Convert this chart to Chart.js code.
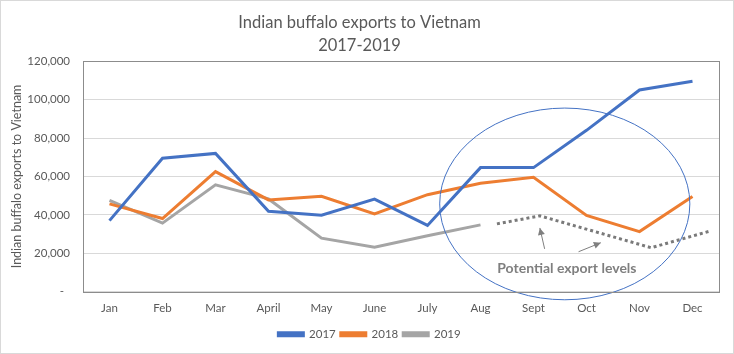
<!DOCTYPE html>
<html>
<head>
<meta charset="utf-8">
<script src="https://cdn.jsdelivr.net/npm/chart.js@4.4.1/dist/chart.umd.min.js"></script>
<style>
html,body{margin:0;padding:0;background:#fff;}
#wrap{width:734px;height:354px;position:relative;}
</style>
</head>
<body>
<div id="wrap"><canvas id="c" width="734" height="354"></canvas></div>
<script>
const months = ['Jan','Feb','Mar','April','May','June','July','Aug','Sept','Oct','Nov','Dec'];
const exports2017 = [37000, 69500, 72000, 41900, 39800, 48200, 34500, 64600, 64600, 84000, 105000, 109600];
const exports2018 = [45700, 38100, 62500, 47800, 49700, 40500, 50500, 56500, 59600, 39700, 31300, 49500];
const exports2019 = [47600, 35700, 55600, 48300, 27900, 23200, 29100, 34800, null, null, null, null];
const potentialX = [7.31, 8.12, 10.22, 11.35];
const potentialY = [35300, 39500, 22900, 31700];
const yTicks = [0, 20000, 40000, 60000, 80000, 100000, 120000];

const FONT = "Lato, 'Open Sans', 'Liberation Sans', sans-serif";
const GREY_TXT = '#595959';

const legendShift = {
  id: 'legendShift',
  afterLayout(chart) {
    if (chart.legend) { chart.legend.left += 10; chart.legend.right += 10; }
  }
};

const annotationPlugin = {
  id: 'annots',
  afterDatasetsDraw(chart) {
    const ctx = chart.ctx;
    const xs = chart.scales.x2, ys = chart.scales.y;
    const px = v => xs.getPixelForValue(v), py = v => ys.getPixelForValue(v);
    ctx.save();
    // ellipse
    const cx = px(8.59), cy = py(45700);
    const rx = px(8.59 + 2.36) - cx, ry = py(45700) - py(45700 + 49900);
    ctx.beginPath();
    ctx.ellipse(cx, cy, rx, ry, 0, 0, Math.PI * 2);
    ctx.strokeStyle = '#4472C4';
    ctx.lineWidth = 1;
    ctx.stroke();
    // arrows
    const arrow = (x1, y1, x2, y2) => {
      const ax = px(x1), ay = py(y1), bx = px(x2), by = py(y2);
      ctx.strokeStyle = '#7f7f7f';
      ctx.fillStyle = '#7f7f7f';
      ctx.lineWidth = 1;
      ctx.beginPath(); ctx.moveTo(ax, ay); ctx.lineTo(bx, by); ctx.stroke();
      const ang = Math.atan2(by - ay, bx - ax), L = 7, W = 3.5;
      ctx.beginPath();
      ctx.moveTo(bx, by);
      ctx.lineTo(bx - L * Math.cos(ang) + W * Math.sin(ang), by - L * Math.sin(ang) - W * Math.cos(ang));
      ctx.lineTo(bx - L * Math.cos(ang) - W * Math.sin(ang), by - L * Math.sin(ang) + W * Math.cos(ang));
      ctx.closePath(); ctx.fill();
    };
    arrow(8.21, 22300, 8.12, 33200);
    arrow(8.85, 20800, 9.27, 25500);
    // label
    ctx.fillStyle = '#7f7f7f';
    ctx.font = 'bold 14px ' + FONT;
    ctx.textAlign = 'center';
    ctx.textBaseline = 'middle';
    ctx.fillText('Potential export levels', px(8.63), py(12000));
    // plot border
    const a = chart.chartArea;
    ctx.strokeStyle = '#8c8c8c';
    ctx.lineWidth = 1;
    ctx.strokeRect(Math.round(a.left) + 0.5, Math.round(a.top) + 0.5, Math.round(a.right - a.left), Math.round(a.bottom - a.top));
    // outer border
    ctx.strokeStyle = '#d9d9d9';
    ctx.strokeRect(0.5, 0.5, chart.width - 1, chart.height - 1);
    ctx.restore();
  }
};

new Chart(document.getElementById('c'), {
  type: 'line',
  data: {
    labels: months,
    datasets: [
      { label: '2017', data: exports2017, borderColor: '#4472C4', backgroundColor: '#4472C4', borderWidth: 3, pointRadius: 0, tension: 0 },
      { label: '2018', data: exports2018, borderColor: '#ED7D31', backgroundColor: '#ED7D31', borderWidth: 3, pointRadius: 0, tension: 0 },
      { label: '2019', data: exports2019, borderColor: '#A5A5A5', backgroundColor: '#A5A5A5', borderWidth: 3, pointRadius: 0, tension: 0 },
      { label: 'Potential', data: potentialX.map((x, i) => ({ x: x, y: potentialY[i] })), xAxisID: 'x2',
        borderColor: '#7a7a7a', backgroundColor: '#7a7a7a', borderWidth: 3, borderDash: [3, 3], borderCapStyle: 'butt', pointRadius: 0, tension: 0 }
    ]
  },
  options: {
    responsive: false,
    animation: false,
    layout: { padding: { left: 0, right: 15, top: 0, bottom: 4 } },
    plugins: {
      title: {
        display: true,
        text: ['Indian buffalo exports to Vietnam', '2017-2019'],
        color: GREY_TXT,
        font: { family: FONT, size: 16.5, weight: 'normal', lineHeight: 1.4 },
        padding: { top: 11, bottom: 4 }
      },
      legend: {
        position: 'bottom',
        labels: {
          filter: item => item.text !== 'Potential',
          boxWidth: 25, boxHeight: 3,
          color: GREY_TXT,
          font: { family: FONT, size: 11.5 },
          padding: 5
        }
      },
      tooltip: { enabled: false }
    },
    scales: {
      x: {
        type: 'category',
        offset: true,
        grid: { display: false },
        border: { display: false },
        afterFit: axis => { axis.height += 6; },
        ticks: { color: GREY_TXT, font: { family: FONT, size: 11.5 }, padding: 2, maxRotation: 0 }
      },
      x2: { type: 'linear', min: -0.5, max: 11.5, display: false },
      y: {
        min: 0, max: 120000,
        afterBuildTicks: axis => { axis.ticks = yTicks.map(v => ({ value: v })); },
        afterFit: axis => { axis.width = 83; },
        grid: { color: '#d9d9d9', drawTicks: false },
        border: { display: false },
        ticks: {
          color: GREY_TXT, font: { family: FONT, size: 11.5 }, padding: 13,
          callback: v => v === 0 ? '-  ' : v.toLocaleString('en-US')
        },
        title: { display: true, text: 'Indian buffalo exports to Vietnam', color: GREY_TXT, font: { family: FONT, size: 12.5 }, padding: { top: 9, bottom: 0 } }
      }
    }
  },
  plugins: [annotationPlugin, legendShift]
});
</script>
</body>
</html>
